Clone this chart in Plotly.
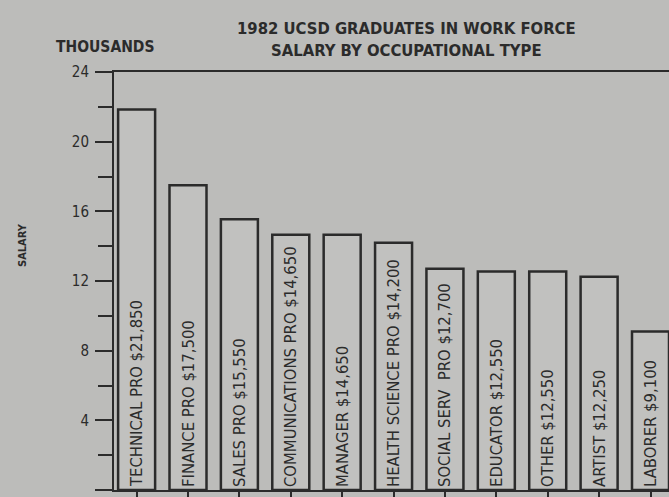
import plotly.graph_objects as go

categories = ["TECHNICAL PRO", "FINANCE PRO", "SALES PRO", "COMMUNICATIONS PRO", "MANAGER",
              "HEALTH SCIENCE PRO", "SOCIAL SERV  PRO", "EDUCATOR", "OTHER", "ARTIST", "LABORER"]
salaries = [21850, 17500, 15550, 14650, 14650, 14200, 12700, 12550, 12550, 12250, 9100]
y_ticks = [0, 4, 8, 12, 16, 20, 24]
y_minor_ticks = [2, 6, 10, 14, 18, 22]

values_k = [s / 1000 for s in salaries]
labels = [f"{c} ${s:,}" for c, s in zip(categories, salaries)]
positions = list(range(len(categories)))

BG = "#bcbcba"
INK = "#2b2b2b"
FONT = "Liberation Sans Narrow, DejaVu Sans Condensed, Arial Narrow, sans-serif"

fig = go.Figure()
fig.add_trace(go.Bar(
    x=positions, y=values_k, width=0.72,
    marker=dict(color="#c1c1bf", line=dict(color=INK, width=2.5)),
    text=labels, textposition="inside", insidetextanchor="start", textangle=-90,
    textfont=dict(family=FONT, size=16.5, color=INK),
    constraintext="none", cliponaxis=False,
))

fig.update_layout(
    width=669, height=497,
    margin=dict(l=114, r=0, t=72, b=7),
    paper_bgcolor=BG, plot_bgcolor=BG,
    showlegend=False,
    font=dict(family=FONT, color=INK),
    xaxis=dict(range=[-0.44, 10.36], tickmode="array", tickvals=positions, showticklabels=False,
               ticks="outside", ticklen=8, tickwidth=1.5, tickcolor=INK,
               showline=True, linecolor=INK, linewidth=2, mirror=True, showgrid=False, zeroline=False),
    yaxis=dict(range=[0, 24], tickmode="array", tickvals=y_ticks, ticks="outside", ticklen=17,
               tickwidth=1.5, tickcolor=INK, tickfont=dict(size=15, family=FONT, color=INK),
               ticklabelstandoff=3,
               minor=dict(tickvals=y_minor_ticks, ticks="outside", ticklen=14, tickwidth=1.5, tickcolor=INK),
               showline=True, linecolor=INK, linewidth=2, showgrid=False, zeroline=False),
)
fig.add_annotation(text="<b>1982 UCSD GRADUATES IN WORK FORCE</b>", xref="paper", yref="paper",
                   x=(406 - 114) / 555, y=1 + (72 - 28) / 418, showarrow=False,
                   xanchor="center", yanchor="middle",
                   font=dict(size=16.5, family=FONT, color=INK))
fig.add_annotation(text="<b>SALARY BY OCCUPATIONAL TYPE</b>", xref="paper", yref="paper",
                   x=(406 - 114) / 555, y=1 + (72 - 50) / 418, showarrow=False,
                   xanchor="center", yanchor="middle",
                   font=dict(size=16.5, family=FONT, color=INK))
fig.add_annotation(text="<b>THOUSANDS</b>", xref="paper", yref="paper",
                   x=(105 - 114) / 555, y=1 + (72 - 47) / 418, showarrow=False,
                   xanchor="center", yanchor="middle",
                   font=dict(size=15.5, family=FONT, color=INK))
fig.add_annotation(text="<b>SALARY</b>", xref="paper", yref="paper", textangle=-90,
                   x=(22 - 114) / 555, y=(490 - 245) / 418, showarrow=False,
                   xanchor="center", yanchor="middle",
                   font=dict(size=11, family=FONT, color=INK))

fig.write_html("out.html", config={"displayModeBar": False},
               post_script="document.body.style.margin='0px';")
